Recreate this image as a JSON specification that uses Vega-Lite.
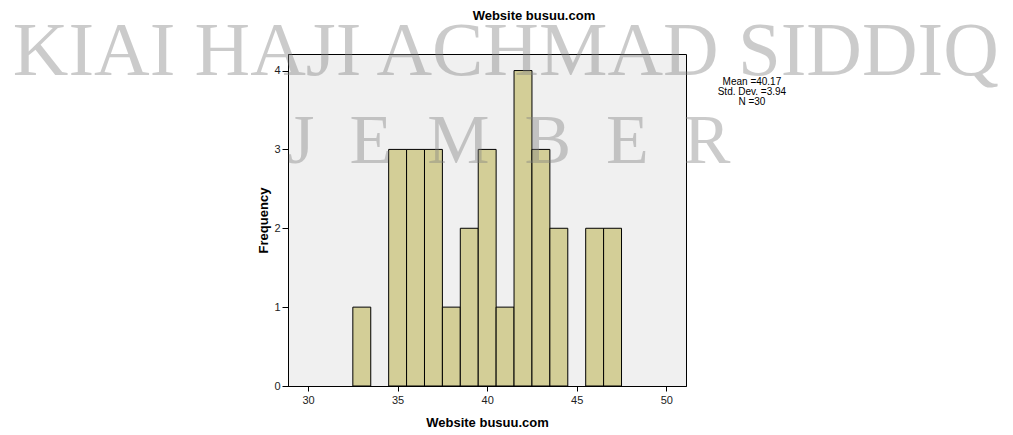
{
  "$schema": "https://vega.github.io/schema/vega-lite/v6.json",
  "width": 398,
  "height": 332,
  "autosize": {"type": "none"},
  "padding": {"left": 288, "top": 54, "right": 327, "bottom": 49},
  "background": "white",
  "config": {
    "view": {"stroke": "#000", "strokeWidth": 1, "fill": "#f0f0f0"},
    "font": "Liberation Sans"
  },
  "layer": [
    {
      "data": {
        "values": [
          {"bin_start": 32.5, "bin_end": 33.5, "count": 1},
          {"bin_start": 34.5, "bin_end": 35.5, "count": 3},
          {"bin_start": 35.5, "bin_end": 36.5, "count": 3},
          {"bin_start": 36.5, "bin_end": 37.5, "count": 3},
          {"bin_start": 37.5, "bin_end": 38.5, "count": 1},
          {"bin_start": 38.5, "bin_end": 39.5, "count": 2},
          {"bin_start": 39.5, "bin_end": 40.5, "count": 3},
          {"bin_start": 40.5, "bin_end": 41.5, "count": 1},
          {"bin_start": 41.5, "bin_end": 42.5, "count": 4},
          {"bin_start": 42.5, "bin_end": 43.5, "count": 3},
          {"bin_start": 43.5, "bin_end": 44.5, "count": 2},
          {"bin_start": 45.5, "bin_end": 46.5, "count": 2},
          {"bin_start": 46.5, "bin_end": 47.5, "count": 2}
        ]
      },
      "mark": {"type": "rect", "fill": "#d3ce97", "stroke": "#000", "strokeWidth": 1},
      "encoding": {
        "x": {
          "field": "bin_start",
          "type": "quantitative",
          "scale": {"domain": [28.88, 51.1], "nice": false, "zero": false},
          "title": "Website busuu.com",
          "axis": {
            "values": [30, 35, 40, 45, 50],
            "format": "d",
            "grid": false,
            "domain": true,
            "domainColor": "#000",
            "ticks": true,
            "tickSize": 5,
            "tickColor": "#000",
            "labelFontSize": 11,
            "labelColor": "#222",
            "labelPadding": 3,
            "titleFontSize": 13,
            "titleFontWeight": "bold",
            "titleColor": "#000",
            "titlePadding": 11
          }
        },
        "x2": {"field": "bin_end"},
        "y": {
          "field": "count",
          "type": "quantitative",
          "scale": {"domain": [0, 4.21], "nice": false},
          "title": "Frequency",
          "axis": {
            "values": [0, 1, 2, 3, 4],
            "format": "d",
            "grid": false,
            "domain": true,
            "domainColor": "#000",
            "ticks": true,
            "tickSize": 6,
            "tickColor": "#000",
            "labelFontSize": 11,
            "labelColor": "#222",
            "labelPadding": 2,
            "titleFontSize": 13,
            "titleFontWeight": "bold",
            "titleColor": "#000",
            "titlePadding": 3
          }
        },
        "y2": {"datum": 0}
      }
    },
    {
      "data": {"values": [{"label": "Website busuu.com"}]},
      "mark": {"type": "text", "font": "Liberation Sans", "fontSize": 13, "fontWeight": "bold", "fill": "#000", "align": "center", "baseline": "alphabetic"},
      "encoding": {
        "x": {"datum": 42.61},
        "y": {"datum": 4.644},
        "text": {"field": "label"}
      }
    },
    {
      "data": {"values": [{"label": "KIAI HAJI ACHMAD SIDDIQ"}]},
      "mark": {"type": "text", "font": "Liberation Serif", "fontSize": 77, "fill": "#808080", "opacity": 0.4, "align": "center", "baseline": "alphabetic"},
      "encoding": {
        "x": {"datum": 41.04},
        "y": {"datum": 3.948},
        "text": {"field": "label"}
      }
    },
    {
      "data": {"values": [{"label": "J\u00a0\u00a0E\u00a0\u00a0M\u00a0\u00a0B\u00a0\u00a0E\u00a0\u00a0R"}]},
      "mark": {"type": "text", "font": "Liberation Serif", "fontSize": 70, "fill": "#808080", "opacity": 0.4, "align": "center", "baseline": "alphabetic"},
      "encoding": {
        "x": {"datum": 41.21},
        "y": {"datum": 2.832},
        "text": {"field": "label"}
      }
    },
    {
      "data": {"values": [{"lines": ["Mean =40.17", "Std. Dev. =3.94", "N =30"]}]},
      "mark": {"type": "text", "font": "Liberation Sans", "fontSize": 10, "fill": "#000", "align": "center", "baseline": "alphabetic", "lineHeight": 10},
      "encoding": {
        "x": {"datum": 54.78},
        "y": {"datum": 3.82},
        "text": {"field": "lines"}
      }
    }
  ]
}
